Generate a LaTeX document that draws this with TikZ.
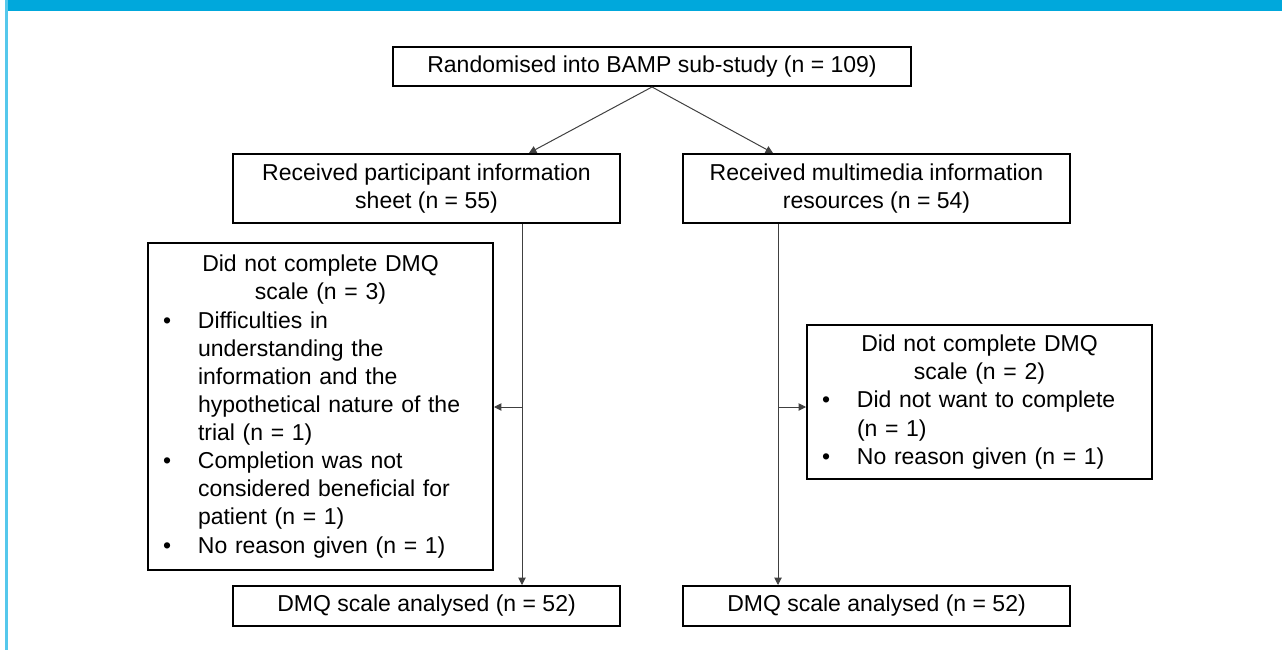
\documentclass[tikz,border=0pt]{standalone}
\usepackage{fontspec}
\setmainfont{Liberation Sans}
\usepackage{xcolor}
\usetikzlibrary{arrows.meta}
\definecolor{barblue}{HTML}{00A8DC}
\definecolor{edgeblue}{HTML}{55C8EC}
\tikzset{every picture/.style={line width=0.75pt}}
\tikzset{box/.style={draw=black, line width=1.5pt, align=center, inner sep=0pt,
    font=\fontsize{17.25}{20.5}\selectfont},
  conn/.style={draw=black!75, line width=0.75pt, -{Triangle[length=5.5pt,width=5.5pt]}}}
\newcommand{\bulmark}{\makebox[26.25pt][l]{\textbullet}}
\newcommand{\bulgap}{\hspace*{26.25pt}}

\begin{document}
\begin{tikzpicture}[x=0.75pt, y=-0.75pt]
\useasboundingbox (0,0) rectangle (1282,650);
\fill[barblue] (6,0) rectangle (1282,11);
\fill[edgeblue] (5,0) rectangle (7.5,650);
%
\node[box, minimum width=388.5pt, minimum height=29.25pt] (top) at (652,66.5) {Randomised into BAMP sub-study (n = 109)};
\node[box, minimum width=290.25pt, minimum height=51.75pt] (left) at (426.5,188.5) {Received participant information\\sheet (n = 55)};
\node[box, minimum width=290.25pt, minimum height=51.75pt] (right) at (876.5,188.5) {Received multimedia information\\resources (n = 54)};
%
\node[box, align=left, text width=236.25pt, inner xsep=11.25pt, minimum height=245.25pt,
  font=\fontsize{17.25}{21.1}\selectfont] (ex1) at (320.5,406.5) {{\centering Did not complete DMQ\\scale (n = 3)\par}
\bulmark Difficulties in\\
\bulgap understanding the\\
\bulgap information and the\\
\bulgap hypothetical nature of the\\
\bulgap trial (n = 1)\\
\bulmark Completion was not\\
\bulgap considered beneficial for\\
\bulgap patient (n = 1)\\
\bulmark No reason given (n = 1)};
\node[box, align=left, text width=236.25pt, inner xsep=11.25pt, minimum height=115.5pt,
  font=\fontsize{17.25}{21.1}\selectfont] (ex2) at (979.5,402) {{\centering Did not complete DMQ\\scale (n = 2)\par}
\bulmark Did not want to complete\\
\bulgap (n = 1)\\
\bulmark No reason given (n = 1)};
%
\node[box, minimum width=290.25pt, minimum height=30pt] (out1) at (426.5,606) {DMQ scale analysed (n = 52)};
\node[box, minimum width=290.25pt, minimum height=30pt] (out2) at (876.5,606) {DMQ scale analysed (n = 52)};
%
\coordinate (la) at (529,0);
\coordinate (ra) at (773,0);
\coordinate (lv) at (522,0);
\coordinate (rv) at (778,0);
\coordinate (mid) at (0,407);
\draw[conn] (top.south) -- (left.north -| la);
\draw[conn] (top.south) -- (right.north -| ra);
\draw[conn] (left.south -| lv) -- (out1.north -| lv);
\draw[conn] (right.south -| rv) -- (out2.north -| rv);
\draw[conn] (lv |- mid) -- (ex1.east |- mid);
\draw[conn] (rv |- mid) -- (ex2.west |- mid);
\end{tikzpicture}
\end{document}
